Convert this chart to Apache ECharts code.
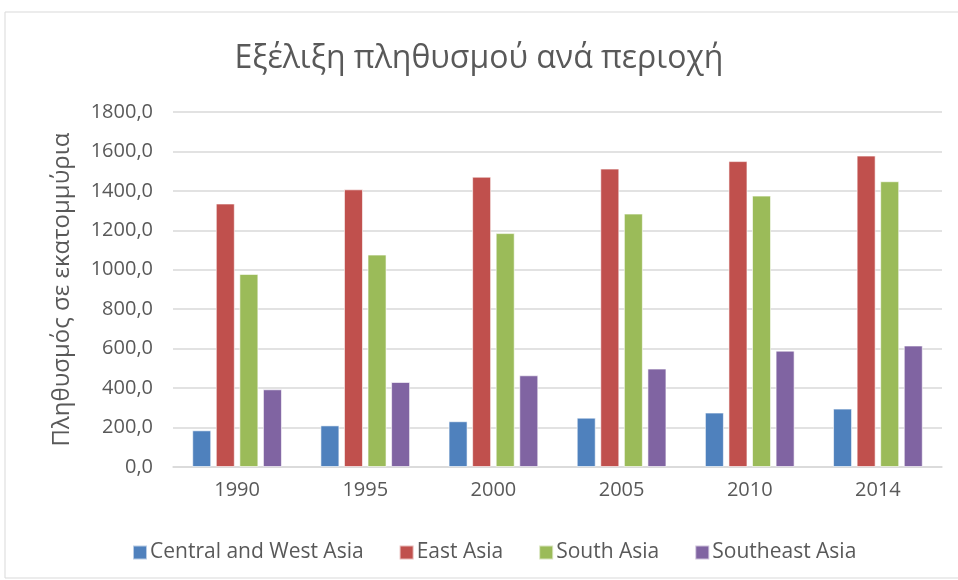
<!DOCTYPE html>
<html>
<head>
<meta charset="utf-8">
<script src="https://cdn.jsdelivr.net/npm/echarts@6/dist/echarts.min.js"></script>
<style>
  html, body { margin: 0; padding: 0; background: #fff; }
  #chart { width: 958px; height: 580px; }
</style>
</head>
<body>
<div id="chart"></div>
<script>
// τιμές σε εκατομμύρια
var years = ['1990', '1995', '2000', '2005', '2010', '2014']
var centralWest = [186, 211, 232, 250, 276, 296]
var eastAsia = [1336, 1408, 1472, 1513, 1551, 1579]
var southAsia = [979, 1077, 1186, 1285, 1376, 1449]
var southeastAsia = [394, 431, 465, 499, 590, 616]

var font = 'Open Sans'
var txt = '#595959'

function bar (name, data, color) {
  return {
    name: name,
    type: 'bar',
    data: data,
    barGap: '24%',
    barCategoryGap: '30%',
    itemStyle: { color: color, borderColor: 'rgba(255,255,255,0.6)', borderWidth: 1 }
  }
}

var option = {
  backgroundColor: '#fff',
  graphic: [{
    type: 'rect',
    shape: { x: 5, y: 12, width: 960, height: 566 },
    style: { fill: 'none', stroke: '#d9d9d9', lineWidth: 1 }
  }],
  title: {
    text: 'Εξέλιξη πληθυσμού ανά περιοχή',
    left: 'center',
    top: 38,
    textStyle: { fontFamily: font, fontSize: 32, fontWeight: 'normal', color: txt }
  },
  legend: {
    bottom: 12,
    left: 127,
    itemWidth: 14,
    itemHeight: 14,
    itemGap: 35,
    icon: 'rect',
    textStyle: { fontFamily: font, fontSize: 21, color: txt, padding: [0, 0, 0, -2] }
  },
  grid: { left: 173, right: 16, top: 112, bottom: 113 },
  xAxis: {
    type: 'category',
    data: years,
    axisTick: { show: false },
    axisLine: { lineStyle: { color: '#d9d9d9', width: 1.5 } },
    axisLabel: { fontFamily: font, fontSize: 20, color: txt, margin: 13 }
  },
  yAxis: {
    type: 'value',
    min: 0,
    max: 1800,
    interval: 200,
    name: 'Πληθυσμός σε εκατομμύρια',
    nameLocation: 'middle',
    nameGap: 99,
    nameTextStyle: { fontFamily: font, fontSize: 24, color: txt },
    axisLabel: {
      fontFamily: font, fontSize: 20, color: txt, margin: 20,
      formatter: function (v) { return v.toFixed(1).replace('.', ',') }
    },
    splitLine: { lineStyle: { color: '#d9d9d9', width: 1.5 } }
  },
  series: [
    bar('Central and West Asia', centralWest, '#4f81bd'),
    bar('East Asia', eastAsia, '#c0504d'),
    bar('South Asia', southAsia, '#9bbb59'),
    bar('Southeast Asia', southeastAsia, '#8064a2')
  ]
}

var chart = echarts.init(document.getElementById('chart'))
chart.setOption(option)
</script>
</body>
</html>
